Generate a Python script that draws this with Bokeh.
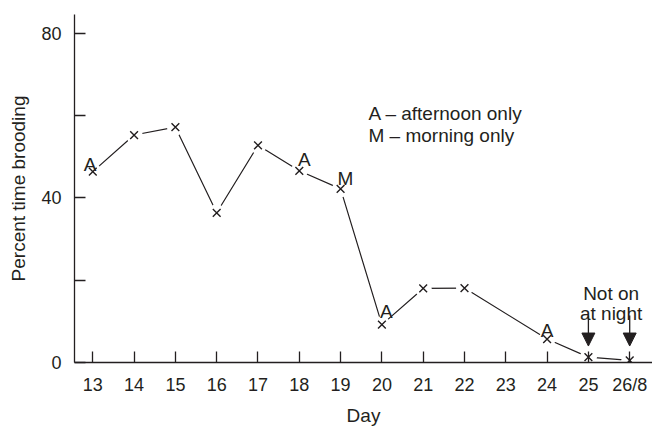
from bokeh.plotting import figure
from bokeh.models import FixedTicker, ColumnDataSource, Arrow, NormalHead, Range1d, Label
from bokeh.embed import file_html
from bokeh.resources import INLINE
from bokeh.core.properties import value

# ---- data ----
days = [13, 14, 15, 16, 17, 18, 19, 20, 21, 22, 24, 25, 26]
percent = [46.4, 55.3, 57.2, 36.4, 52.8, 46.6, 42.2, 9.2, 18.0, 18.1, 5.7, 1.3, 0.5]

note_days = [13, 18, 19, 20, 24]
note_letters = ["A", "A", "M", "A", "A"]

x_ticks = list(range(13, 27))
x_tick_overrides = {26: "26/8"}
y_ticks = [0, 20, 40, 60, 80]
y_tick_overrides = {20: "", 60: ""}

x_title = "Day"
y_title = "Percent time brooding"
legend_lines = ["A \u2013 afternoon only", "M \u2013 morning only"]
night_days = [25, 26]
night_lines = ["Not on", "at night"]

# ---- styles ----
INK = "#231f20"
FONT = "Liberation Sans"
FS = "19px"
TICK_FS = "18px"
note_dx = [-2.6, 5, 4.7, 4.4, 0]      # px
note_dy = [-7, -11.7, -10.7, -13.4, -9]  # px (screen, negative = up)

X0, X1 = 12.557, 26.552
p = figure(width=652, height=428, output_backend="svg", toolbar_location=None,
           x_range=Range1d(X0, X1), y_range=Range1d(0, 84.6),
           min_border_left=74, min_border_right=0, min_border_top=14, min_border_bottom=64)
p.outline_line_color = None
p.xgrid.visible = False
p.ygrid.visible = False
p.background_fill_color = "white"
p.border_fill_color = "white"

for ax in (p.xaxis[0], p.yaxis[0]):
    ax.axis_line_color = INK
    ax.axis_line_width = 1.3
    ax.major_tick_line_color = INK
    ax.major_tick_line_width = 1.3
    ax.major_tick_in = 11
    ax.major_tick_out = 0
    ax.minor_tick_line_color = None
    ax.major_label_text_font = FONT
    ax.major_label_text_font_size = TICK_FS
    ax.major_label_text_color = INK
    ax.axis_label_text_font = FONT
    ax.axis_label_text_font_size = FS
    ax.axis_label_text_color = INK
    ax.axis_label_text_font_style = "normal"

p.xaxis.ticker = FixedTicker(ticks=x_ticks)
p.xaxis.major_label_overrides = x_tick_overrides
p.xaxis.major_label_standoff = 12
p.xaxis.axis_label = x_title
p.xaxis.axis_label_standoff = 7

p.yaxis.ticker = FixedTicker(ticks=y_ticks)
p.yaxis.major_label_overrides = y_tick_overrides
p.yaxis.major_label_standoff = 13
p.yaxis.axis_label = y_title
p.yaxis.axis_label_standoff = 9

src = ColumnDataSource(dict(x=days, y=percent))
p.line("x", "y", source=src, line_color=INK, line_width=1.2)
p.scatter("x", "y", source=src, size=17, fill_color="white", line_color=None)
p.scatter("x", "y", source=src, marker="x", size=11, line_color=INK, line_width=1.4)

lookup = dict(zip(days, percent))
nsrc = ColumnDataSource(dict(x=note_days, y=[lookup[d] for d in note_days],
                             t=note_letters, dx=note_dx, dy=note_dy))
p.text("x", "y", text="t", source=nsrc, x_offset="dx", y_offset="dy",
       text_font=value(FONT), text_font_size=FS, text_color=INK,
       text_align="center", text_baseline="alphabetic")

for i, line in enumerate(legend_lines):
    p.add_layout(Label(x=19.675, y=60.55 - 5.25 * i, text=line, text_font=FONT,
                       text_font_size=FS, text_color=INK, text_align="left",
                       text_baseline="alphabetic"))

for i, line in enumerate(night_lines):
    p.add_layout(Label(x=(night_days[0] + night_days[1]) / 2 + 0.05, y=16.8 - 4.8 * i,
                       text=line, text_font=FONT, text_font_size=FS, text_color=INK,
                       text_align="center", text_baseline="alphabetic"))

for d in night_days:
    p.add_layout(Arrow(end=NormalHead(size=13, fill_color=INK, line_color=INK),
                       x_start=d, y_start=11.4, x_end=d, y_end=4.0,
                       line_color=INK, line_width=1.3))

open("out.html", "w").write(file_html(p, INLINE))
